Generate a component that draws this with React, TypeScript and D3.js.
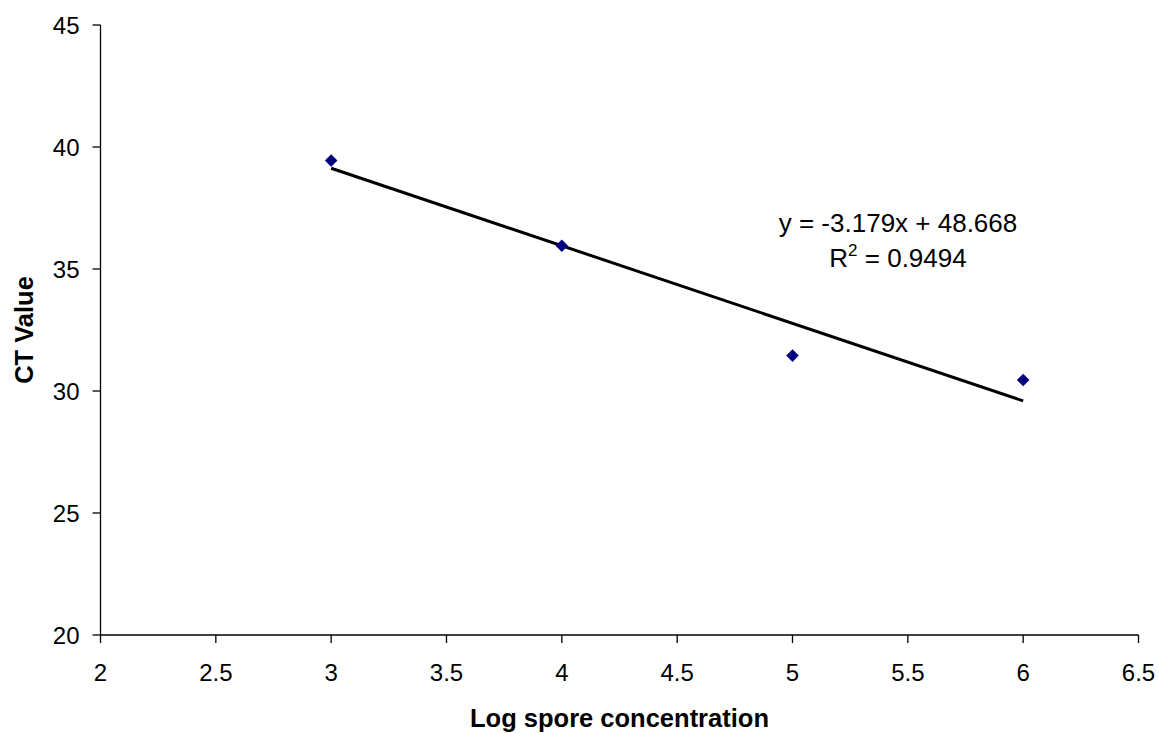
import React from "react";
import * as d3 from "d3";

const xValues = [3, 4, 5, 6];
const yValues = [39.45, 35.95, 31.45, 30.45];
const xTicks = [2, 2.5, 3, 3.5, 4, 4.5, 5, 5.5, 6, 6.5];
const yTicks = [20, 25, 30, 35, 40, 45];
const slope = -3.179;
const intercept = 48.668;
const eqLine1 = "y = -3.179x + 48.668";
const r2Value = "0.9494";

const W = 1159;
const H = 733;
const M = { left: 100.5, right: 20.5, top: 25, bottom: 98 };

export default function App() {
  const x = d3.scaleLinear().domain([2, 6.5]).range([M.left, W - M.right]);
  const y = d3.scaleLinear().domain([20, 45]).range([H - M.bottom, M.top]);
  const font = "'Liberation Sans', Arial, sans-serif";
  const diamond = d3.symbol().type(d3.symbolDiamond2).size(100)();
  const trend = d3.line<number>().x((d) => x(d)).y((d) => y(slope * d + intercept));
  return (
    <svg width={W} height={H} style={{ position: "absolute", left: 0, top: 0 }} fontFamily={font}>
      <rect width={W} height={H} fill="white" />
      <line x1={x(2)} x2={x(6.5)} y1={y(20)} y2={y(20)} stroke="#000" strokeWidth={1.3} />
      <line x1={x(2)} x2={x(2)} y1={y(20)} y2={y(45)} stroke="#000" strokeWidth={1.3} />
      {xTicks.map((t) => (
        <g key={"x" + t}>
          <line x1={x(t)} x2={x(t)} y1={y(20)} y2={y(20) + 8} stroke="#000" strokeWidth={1.3} />
          <text x={x(t)} y={y(20) + 46} fontSize={24} textAnchor="middle">{t}</text>
        </g>
      ))}
      {yTicks.map((t) => (
        <g key={"y" + t}>
          <line x1={x(2) - 8} x2={x(2)} y1={y(t)} y2={y(t)} stroke="#000" strokeWidth={1.3} />
          <text x={x(2) - 21} y={y(t) + 8.5} fontSize={24} textAnchor="end">{t}</text>
        </g>
      ))}
      <path d={trend([3, 6]) || ""} fill="none" stroke="#000" strokeWidth={3} />
      {xValues.map((xv, i) => (
        <path key={i} d={diamond || ""} transform={`translate(${x(xv)},${y(yValues[i])})`} fill="#000080" />
      ))}
      <text x={898} y={232} fontSize={26} textAnchor="middle">{eqLine1}</text>
      <text x={898} y={267} fontSize={26} textAnchor="middle">
        R<tspan dy={-11} fontSize={17}>2</tspan><tspan dy={11}> = {r2Value}</tspan>
      </text>
      <text x={(x(2) + x(6.5)) / 2} y={727} fontSize={25.5} fontWeight="bold" textAnchor="middle">Log spore concentration</text>
      <text transform={`translate(33,${(y(20) + y(45)) / 2}) rotate(-90)`} fontSize={25.5} fontWeight="bold" textAnchor="middle">CT Value</text>
    </svg>
  );
}
